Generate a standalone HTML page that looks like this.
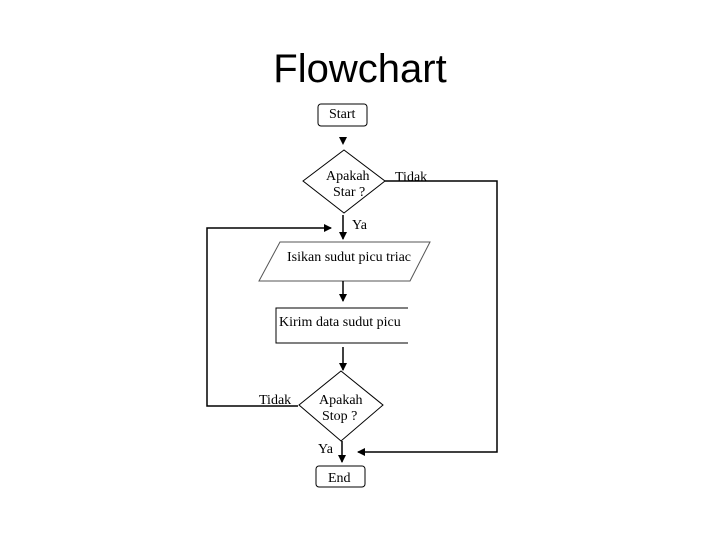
<!DOCTYPE html>
<html><head><meta charset="utf-8"><style>
body{margin:0;width:720px;height:540px;background:#fff;overflow:hidden}
</style></head><body>
<svg width="720" height="540" xmlns="http://www.w3.org/2000/svg" font-family="Liberation Serif, serif" font-size="14" fill="#000">
<defs><marker id="a" markerWidth="8" markerHeight="8" refX="7" refY="4" orient="auto" markerUnits="userSpaceOnUse"><path d="M0,0 L8,4 L0,8 z" fill="#000"/></marker></defs>
<text x="360" y="82" font-family="Liberation Sans, sans-serif" font-size="40" text-anchor="middle">Flowchart</text>
<rect x="318" y="104" width="49" height="22" rx="3" fill="none" stroke="#000"/>
<text x="329" y="118">Start</text>
<path d="M339,137 L347,137 L343,145 z"/>
<path d="M303,181 L344,150 L385,181 L344,213 z" fill="none" stroke="#000"/>
<text x="326" y="180">Apakah</text><text x="333" y="196">Star ?</text>
<text x="395" y="181">Tidak</text>
<polyline points="385,181 497,181 497,452 358,452" fill="none" stroke="#000" stroke-width="1.5" marker-end="url(#a)"/>
<line x1="343" y1="215" x2="343" y2="239" stroke="#000" stroke-width="1.5" marker-end="url(#a)"/>
<text x="352" y="229">Ya</text>
<polyline points="298,406 207,406 207,228 331,228" fill="none" stroke="#000" stroke-width="1.5" marker-end="url(#a)"/>
<path d="M280,242 L430,242 L410,281 L259,281 z" fill="none" stroke="#555"/>
<text x="287" y="261">Isikan sudut picu triac</text>
<line x1="343" y1="281" x2="343" y2="301" stroke="#000" stroke-width="1.5" marker-end="url(#a)"/>
<polyline points="408,308 276,308 276,343 408,343" fill="none" stroke="#000"/>
<text x="279" y="326">Kirim data sudut picu</text>
<line x1="343" y1="347" x2="343" y2="370" stroke="#000" stroke-width="1.5" marker-end="url(#a)"/>
<path d="M299,405 L341,371 L383,405 L341,441 z" fill="none" stroke="#000"/>
<text x="319" y="404">Apakah</text><text x="322" y="420">Stop ?</text>
<text x="259" y="404">Tidak</text>
<text x="318" y="453">Ya</text>
<line x1="342" y1="441" x2="342" y2="462" stroke="#000" stroke-width="1.5" marker-end="url(#a)"/>
<rect x="316" y="466" width="49" height="21" rx="3" fill="none" stroke="#000"/>
<text x="328" y="482">End</text>
</svg>
</body></html>
